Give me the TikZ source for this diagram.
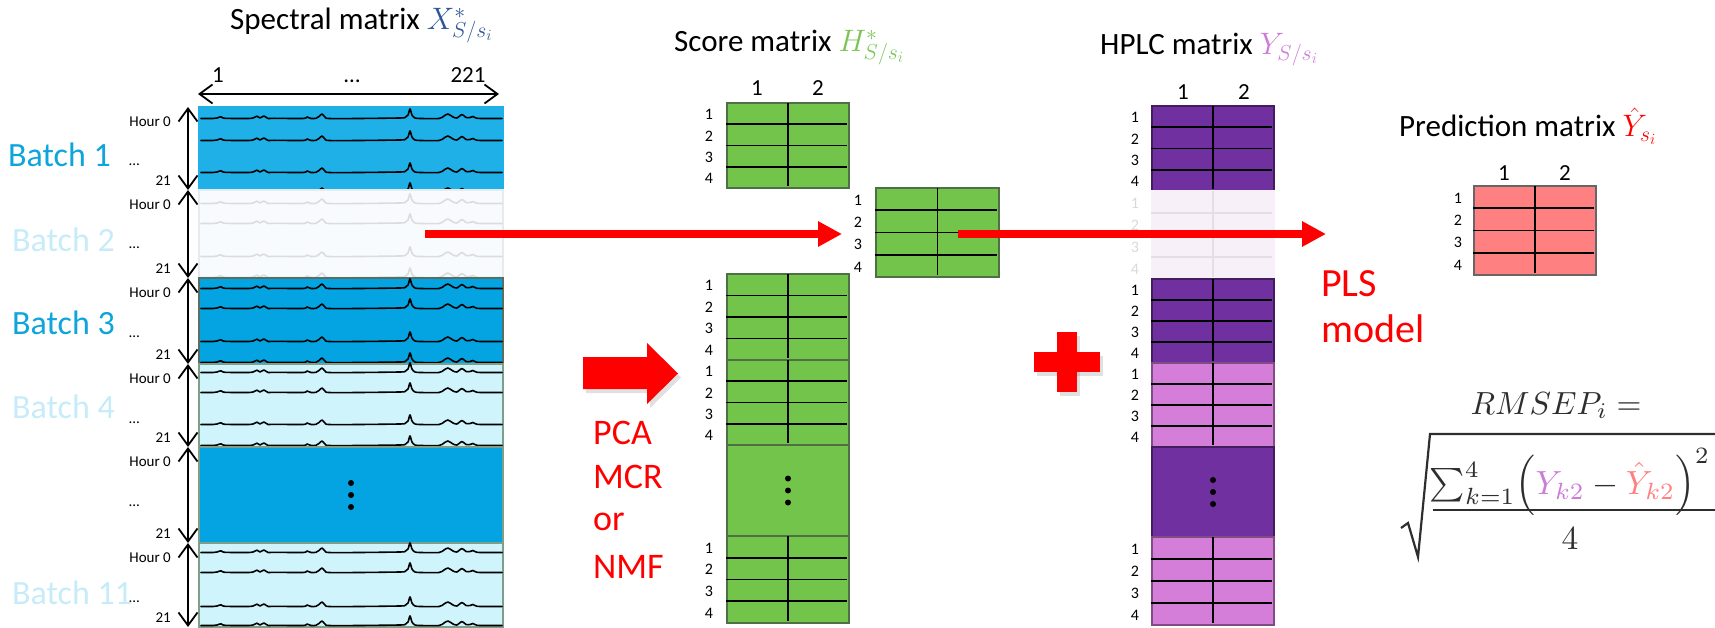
\RequirePackage{fix-cm}
\documentclass[tikz,border=0pt]{standalone}
\usepackage{fontspec}
\setmainfont{Carlito}
\usetikzlibrary{arrows.meta,calc}
\definecolor{bA}{HTML}{20B0E8}
\definecolor{bB}{HTML}{03A4E1}
\definecolor{bL}{HTML}{CFF4FB}
\definecolor{bW}{HTML}{F8FBFD}
\definecolor{bord}{HTML}{7F9F8A}
\definecolor{bordL}{HTML}{E6EBEE}
\definecolor{specL}{HTML}{DCDCDC}
\definecolor{lblD}{HTML}{0EA5DC}
\definecolor{lblL}{HTML}{C6ECF9}
\definecolor{gr}{HTML}{72C44A}
\definecolor{mbord}{HTML}{4F6F45}
\definecolor{pu}{HTML}{7030A0}
\definecolor{pk}{HTML}{D47EDA}
\definecolor{pf}{HTML}{F7F0F8}
\definecolor{pfl}{HTML}{E4DEE5}
\definecolor{rd}{HTML}{FF8080}
\definecolor{xblue}{HTML}{2F5597}
\definecolor{hgreen}{HTML}{7AC555}
\definecolor{yorch}{HTML}{CC7CD6}
\definecolor{frm}{HTML}{2E2E2E}
\definecolor{faded}{HTML}{D9D9D9}

\newcommand\specat[2]{%
  \draw[spec, #2, shift={(199,#1)}] plot[smooth, tension=0.5] coordinates {
  (2,0.5) (14,0.5) (18,0) (22,-1.2) (26,0.3) (48,0.5) (54,0) (58,-1.8) (61,0) (65,-2) (69,0.5)
  (75,0.3) (104,0.5) (108,-1) (112,0.5) (117,0.3) (120,-1.5) (123,-4) (126,-1) (130,0.5)
  (160,0.5) (200,0) (206,-0.5) (209,-3) (211,-9) (213,-3) (216,0) (222,0.5) (240,0.5)
  (245,-2) (249,-4) (254,-1) (258,0) (263,-3.5) (267,-0.5) (271,-0.5) (274,-1.5) (278,0.3)
  (290,0.5) (303,0.5)};}
\newcommand\gridlines[2]{%
  \foreach \f in {0.25,0.5,0.75}{%
    \draw[#2, line width=1.6pt] ($(#1.north west)!\f!(#1.south west)+(-1,0)$) -- ($(#1.north east)!\f!(#1.south east)+(-2,0)$);}
  \draw[#2, line width=1.6pt] (#1.north) -- ($(#1.south)+(0,-2)$);}
\newcommand\rowlabels[3]{%
  \foreach \k [evaluate=\k as \ff using (\k-0.5)/4] in {1,...,4}{%
    \node[rowlbl, text=#3] (#1r\k) at ($(#1.north west)!\ff!(#1.south west)+(#2,1)$) {\k};}}
\newcommand\threedots[1]{%
  \foreach \d in {-12,0,12}{\fill[black] ($(#1.center)+(0,\d)$) circle (3pt);}}

\begin{document}
\begin{tikzpicture}[x=1pt,y=-1pt,
  bbox/.style={draw=bord, line width=1.2pt, anchor=north west, minimum width=304pt, inner sep=0, outer sep=0},
  matbox/.style={draw=mbord, line width=1.4pt, anchor=north west, minimum width=122pt, inner sep=0, outer sep=0},
  spec/.style={line width=1.6pt, line join=round, line cap=round},
  dbl/.style={line width=1.8pt, {Straight Barb[length=13pt,width=19pt]}-{Straight Barb[length=13pt,width=19pt]}},
  ttl/.style={font=\fontsize{31}{36}\selectfont, anchor=base west, inner sep=0},
  batchlbl/.style={font=\fontsize{34}{40}\selectfont, anchor=west, inner sep=0},
  hourlbl/.style={font=\fontsize{15}{18}\selectfont, inner sep=0},
  rowlbl/.style={font=\fontsize{16}{19}\selectfont, inner sep=0},
  collbl/.style={font=\fontsize{23}{27}\selectfont, inner sep=0, anchor=base},
  redtxt/.style={font=\fontsize{36}{43}\selectfont, text=red, anchor=west, inner sep=0},
  redarr/.style={draw=red, line width=8pt, -{Triangle[length=24pt,width=24pt]}},
  shad/.style={fill=black, opacity=0.12},
  frml/.style={text=frm, font=\fontsize{10}{12}\selectfont, inner sep=0},
  frline/.style={draw=frm, line width=2.2pt}
]
\useasboundingbox (0,0) rectangle (1715,628);

% ---------- spectral matrix ----------
\node[ttl] (tS) at (230,30) {Spectral matrix {\color{xblue}$X^{*}_{S/s_i}$}};
\coordinate (hl) at (198,94);
\coordinate (hrr) at (499,94);
\draw[dbl] (hl) -- (hrr);
\node[collbl] (c1) at (218,83) {1};
\node[collbl] (cd) at (352,83) {…};
\node[collbl] (c221) at (468,83) {221};

\node[bbox, fill=bA, draw=bA, minimum height=83pt] (b1) at (199,107) {};
\foreach \y in {118,140,172,192}{\specat{\y}{black}}
\node[bbox, fill=bW, draw=bordL, minimum height=88pt] (b2) at (199,190) {};
\foreach \y in {203,223,256,277}{\specat{\y}{specL}}
\node[bbox, fill=bB, draw=bord!70!black, minimum height=86pt] (b3) at (199,278) {};
\foreach \y in {288,308,341,362}{\specat{\y}{black}}
\node[bbox, fill=bL, minimum height=83pt] (b4) at (199,364) {};
\foreach \y in {372,392,424,445}{\specat{\y}{black}}
\node[bbox, fill=bB, minimum height=96pt] (bd) at (199,447) {};
\threedots{bd}
\node[bbox, fill=bL, minimum height=84pt] (b11) at (199,543) {};
\foreach \y in {552,572,606,625}{\specat{\y}{black}}

\foreach \n in {b1,b2,b3,b4,bd,b11}{
  \draw[dbl] ([xshift=-11pt]\n.north west) -- ([xshift=-11pt]\n.south west);
  \node[hourlbl, anchor=east] (\n h0) at ($(\n.north west)+(-28,15)$) {Hour 0};
  \node[hourlbl, anchor=base west] (\n hd) at ($(\n.north west)+(-70,59)$) {…};
  \node[hourlbl, anchor=east] (\n h21) at ($(\n.south west)+(-28,-9)$) {21};
}

\node[batchlbl, text=lblD] (B1) at (8,155) {Batch 1};
\node[batchlbl, text=lblL] (B2) at (12,240) {Batch 2};
\node[batchlbl, text=lblD] (B3) at (12,323) {Batch 3};
\node[batchlbl, text=lblL] (B4) at (12,407) {Batch 4};
\node[batchlbl, text=lblL] (B11) at (12,593) {Batch 11};

% ---------- block arrow + PCA ----------
\fill[shad] (586,361) -- (650,361) -- (650,347) -- (681,377.5) -- (650,408) -- (650,393) -- (586,393) -- cycle;
\fill[red] (583,357) -- (647,357) -- (647,343) -- (678,373.5) -- (647,404) -- (647,389) -- (583,389) -- cycle;
\node[redtxt] (pca) at (593,433) {PCA};
\node[redtxt] (mcr) at (593,477) {MCR};
\node[redtxt] (or) at (593,522) {or};
\node[redtxt] (nmf) at (593,567) {NMF};

% ---------- score matrix ----------
\node[ttl] (tH) at (674,52) {Score matrix {\color{hgreen}$H^{*}_{S/s_i}$}};
\node[collbl] (sc1) at (757,96) {1};
\node[collbl] (sc2) at (818,96) {2};
\node[matbox, fill=gr, minimum height=85pt] (s1) at (727,103) {};
\gridlines{s1}{black}\rowlabels{s1}{-18}{black}
\node[matbox, fill=gr, minimum width=123pt, minimum height=89pt] (s2) at (876,188) {};
\gridlines{s2}{black}\rowlabels{s2}{-18}{black}
\node[matbox, fill=gr, minimum height=86pt] (s3a) at (727,274) {};
\gridlines{s3a}{black}\rowlabels{s3a}{-18}{black}
\node[matbox, fill=gr, minimum height=85pt] (s3b) at (727,360) {};
\gridlines{s3b}{black}\rowlabels{s3b}{-18}{black}
\node[matbox, fill=gr, minimum height=91pt] (s3d) at (727,445) {};
\threedots{s3d}
\node[matbox, fill=gr, minimum height=87pt] (s3c) at (727,536) {};
\gridlines{s3c}{black}\rowlabels{s3c}{-18}{black}

% ---------- plus ----------
\fill[shad] (1037,356) rectangle (1103,376);
\fill[shad] (1060,336) rectangle (1080,396);
\fill[red] (1034,352) rectangle (1100,372);
\fill[red] (1057,332) rectangle (1077,392);

% ---------- HPLC matrix ----------
\node[ttl] (tY) at (1100,55) {HPLC matrix {\color{yorch}$Y_{S/s_i}$}};
\node[collbl] (hc1) at (1183,100) {1};
\node[collbl] (hc2) at (1244,100) {2};
\node[matbox, fill=pu, draw=pu!60!black, minimum height=85pt] (h1) at (1152,106) {};
\gridlines{h1}{black}\rowlabels{h1}{-17}{black}
\node[matbox, fill=pf, draw=pf, minimum height=88pt] (h2) at (1152,191) {};
\gridlines{h2}{pfl}\rowlabels{h2}{-17}{faded}
\node[matbox, fill=pu, draw=pu!60!black, minimum height=84pt] (h3) at (1152,279) {};
\gridlines{h3}{black}\rowlabels{h3}{-17}{black}
\node[matbox, fill=pk, draw=pk!60!black, minimum height=84pt] (h4) at (1152,363) {};
\gridlines{h4}{black}\rowlabels{h4}{-17}{black}
\node[matbox, fill=pu, draw=pu!60!black, minimum height=90pt] (hd) at (1152,447) {};
\threedots{hd}
\node[matbox, fill=pk, draw=pk!60!black, minimum height=88pt] (h11) at (1152,537) {};
\gridlines{h11}{black}\rowlabels{h11}{-17}{black}

% ---------- prediction matrix ----------
\node[ttl] (tP) at (1399,137) {Prediction matrix {\color{red}$\hat{Y}_{s_i}$}};
\node[collbl] (pc1) at (1504,181) {1};
\node[collbl] (pc2) at (1565,181) {2};
\node[matbox, fill=rd, draw=gray!80!black, minimum height=89pt] (pm) at (1474,186) {};
\gridlines{pm}{black}\rowlabels{pm}{-16}{black}

% ---------- red arrows ----------
\coordinate (r1s) at (425,234);
\coordinate (r1e) at (842,234);
\draw[redarr] (r1s) -- (r1e);
\coordinate (r2s) at (958,234);
\coordinate (r2e) at (1326,234);
\draw[redarr] (r2s) -- (r2e);

\node[redtxt, font=\fontsize{40}{48}\selectfont] (pls) at (1321,284) {PLS};
\node[redtxt, font=\fontsize{40}{48}\selectfont] (mdl) at (1321,329) {model};

% ---------- formula ----------
\node[frml, anchor=base] (rm) at (1556,414) {\scalebox{3.2}{$RMSEP_i =$}};
\node[frml, anchor=base] (num) at (1570,494)
  {\scalebox{3.35}{$\textstyle\sum_{k=1}^{4}\Bigl({\color{yorch}Y_{k2}}-{\color{rd}\hat{Y}_{k2}}\Bigr)^{2}$}};
\node[frml, anchor=base] (den) at (1570,549) {\scalebox{3.35}{$4$}};
\coordinate (fbl) at (1433,510);
\coordinate (fbr) at (1715,510);
\draw[frline] (fbl) -- (fbr);
\coordinate (rq0) at (1401,528);
\coordinate (rq1) at (1408,523);
\coordinate (rq2) at (1418,557);
\coordinate (rq3) at (1430,434);
\coordinate (rq4) at (1715,434);
\draw[frline, line join=miter] (rq0) -- (rq1) -- (rq2) -- (rq3) -- (rq4);
\end{tikzpicture}
\end{document}
